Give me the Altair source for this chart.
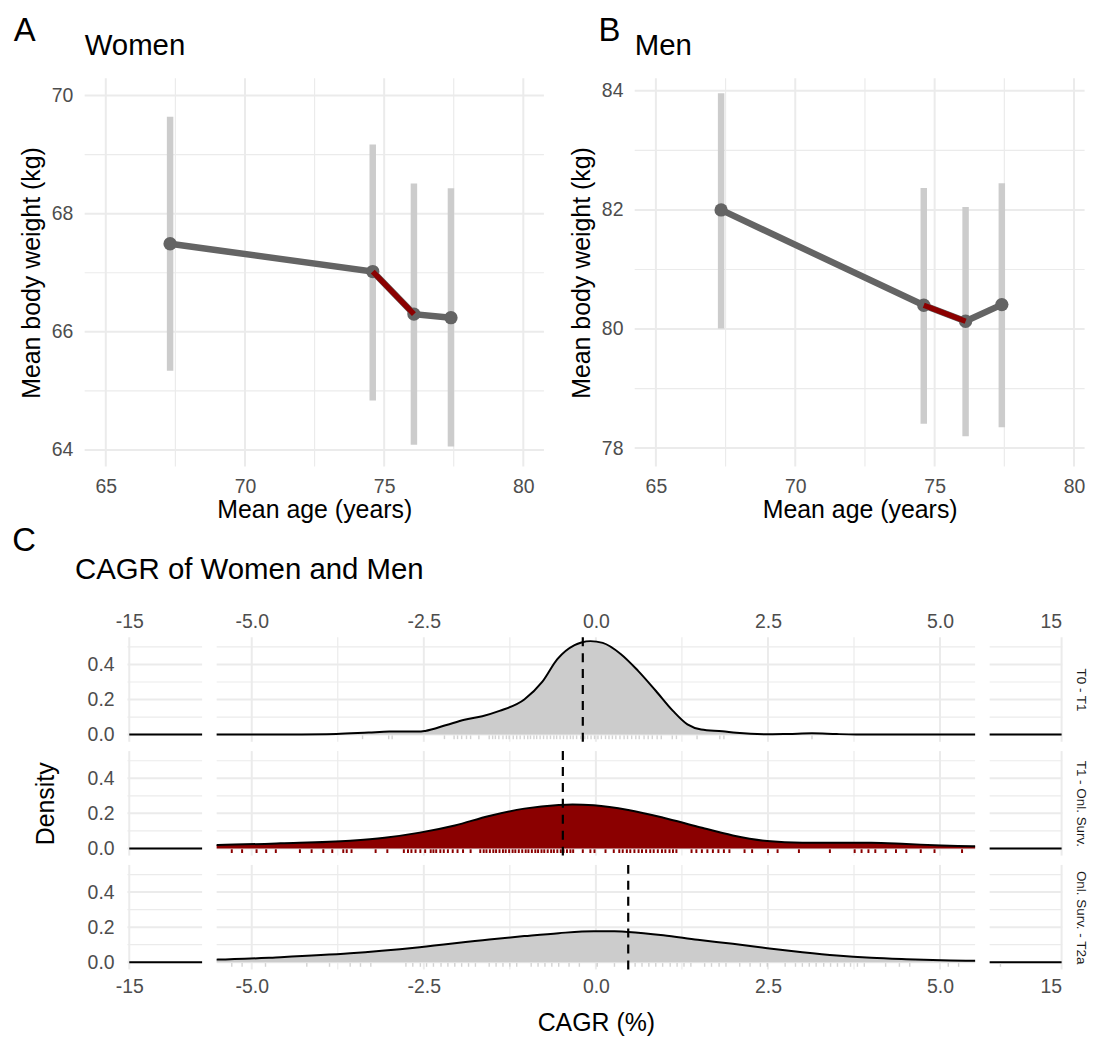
import altair as alt
import pandas as pd

FONT = "Liberation Sans"
GRID = "#EBEBEB"
DARK = "#646464"
RED = "#8B0000"
BAR = "#CCCCCC"
U = alt.Undefined

# ---------------- Panels A / B : mean body weight by mean age ----------------
waves = ["T0", "T1", "Onl. Surv.", "T2a"]

ages_women = [67.31, 74.59, 76.07, 77.40]
weight_women = [67.49, 67.02, 66.30, 66.24]
lo_women = [65.34, 64.84, 64.09, 64.06]
hi_women = [69.64, 69.17, 68.51, 68.43]

ages_men = [67.34, 74.61, 76.11, 77.41]
weight_men = [82.00, 80.40, 80.13, 80.41]
lo_men = [80.01, 78.41, 78.20, 78.35]
hi_men = [83.96, 82.37, 82.05, 82.45]

age_ticks = [65, 70, 75, 80]
age_minor = [67.5, 72.5, 77.5]
women_ticks = [64, 66, 68, 70]
women_minor = [65, 67, 69]
men_ticks = [78, 80, 82, 84]
men_minor = [79, 81, 83]
red_waves = ["T1", "Onl. Surv."]

# ---------------- Panel C : CAGR densities ----------------
row_labels = ["T0 - T1", "T1 - Onl. Surv.", "Onl. Surv. - T2a"]
row_fill = ["#CCCCCC", RED, "#CCCCCC"]
row_rug_color = ["#C8C8C8", RED, "#C8C8C8"]

dens1_x = [-15, -11, -5.5, -4.5, -3.77, -3.3, -3.0, -2.58, -2.48, -2.17, -1.91, -1.65, -1.40,
           -1.04, -0.78, -0.56, -0.31, -0.21, -0.08, 0.10, 0.36, 0.61, 0.87, 1.12, 1.33, 1.53,
           1.84, 2.04, 2.45, 2.8, 3.14, 3.5, 3.78, 4.5, 5.5, 11, 15]
dens1_y = [0, 0, 0, 0.001, 0.004, 0.012, 0.017, 0.017, 0.021, 0.055, 0.085, 0.105, 0.135,
           0.2, 0.3, 0.43, 0.51, 0.525, 0.533, 0.523, 0.46, 0.365, 0.25, 0.135, 0.058, 0.029,
           0.019, 0.01, 0.002, 0.004, 0.007, 0.003, 0.001, 0, 0, 0, 0]

dens2_x = [-15, -11, -5.49, -4.58, -3.57, -3.07, -2.56, -2.05, -1.55, -1.04, -0.54, -0.34, -0.03,
           0.47, 0.98, 1.48, 1.99, 2.49, 3.0, 3.5, 4.0, 4.51, 5.02, 5.47, 11, 15]
dens2_y = [0, 0, 0.019, 0.029, 0.044, 0.061, 0.09, 0.131, 0.185, 0.227, 0.248, 0.251, 0.246,
           0.219, 0.175, 0.124, 0.074, 0.042, 0.032, 0.032, 0.032, 0.025, 0.017, 0.013, 0, 0]

dens3_x = [-15, -11, -5.49, -4.58, -3.57, -2.56, -1.55, -1.04, -0.54, -0.03, 0.27, 0.47, 0.98,
           1.48, 1.99, 2.49, 3.0, 3.5, 4.0, 4.51, 5.02, 5.47, 11, 15]
dens3_y = [0, 0, 0.015, 0.029, 0.051, 0.086, 0.13, 0.149, 0.166, 0.177, 0.177, 0.173, 0.154,
           0.128, 0.105, 0.08, 0.057, 0.038, 0.025, 0.017, 0.011, 0.008, 0, 0]

means = [-0.19, -0.48, 0.47]

rug1 = [-3.39, -3.01, -2.96, -2.20, -2.06, -2.01, -1.95, -1.88, -1.82, -1.70, -1.55, -1.50, -1.46,
        -1.41, -1.35, -1.30, -1.26, -1.20, -1.15, -1.10, -1.04, -0.99, -0.95, -0.90, -0.86, -0.81,
        -0.76, -0.71, -0.66, -0.61, -0.57, -0.52, -0.47, -0.42, -0.37, -0.33, -0.28, -0.22, -0.16,
        -0.12, -0.07, -0.02, 0.03, 0.08, 0.14, 0.19, 0.24, 0.29, 0.35, 0.41, 0.46, 0.52, 0.58,
        0.63, 0.70, 0.76, 0.82, 0.89, 0.95, 1.11, 1.17, 1.47, 1.80, 1.86, 3.14]

rug2 = [-5.29, -5.14, -4.93, -4.79, -4.65, -4.30, -4.13, -3.96, -3.83, -3.67, -3.62, -3.55, -3.20,
        -3.03, -2.79, -2.73, -2.68, -2.62, -2.55, -2.48, -2.40, -2.36, -2.32, -2.26, -2.21, -2.15,
        -2.08, -2.01, -1.93, -1.82, -1.68, -1.63, -1.59, -1.54, -1.49, -1.45, -1.40, -1.35, -1.31,
        -1.26, -1.21, -1.17, -1.12, -1.07, -1.02, -0.98, -0.93, -0.88, -0.84, -0.79, -0.75, -0.70,
        -0.65, -0.61, -0.56, -0.51, -0.47, -0.42, -0.37, -0.33, -0.19, -0.08, -0.02, 0.14, 0.26,
        0.34, 0.39, 0.45, 0.50, 0.56, 0.62, 0.67, 0.73, 0.79, 0.84, 0.90, 0.96, 1.01, 1.07, 1.12,
        1.17, 1.39, 1.46, 1.54, 1.62, 1.70, 1.78, 1.86, 1.94, 2.16, 2.27, 2.50, 2.64, 2.95, 3.40,
        3.76, 3.86, 3.96, 4.06, 4.21, 4.36, 4.51, 4.72, 4.92, 5.32]

rug3 = [-5.29, -5.14, -4.80, -4.20, -3.87, -3.57, -3.42, -3.27, -2.76, -2.66, -2.55, -2.46, -2.36,
        -2.25, -2.15, -2.05, -1.95, -1.85, -1.75, -1.55, -1.45, -1.35, -1.25, -1.15, -0.94, -0.84,
        -0.74, -0.64, -0.54, -0.39, -0.24, 0.02, 0.27, 0.47, 0.57, 0.67, 0.77, 0.87, 0.97, 1.08,
        1.18, 1.28, 1.38, 1.58, 1.68, 1.79, 1.89, 2.09, 2.24, 2.39, 2.49, 2.75, 2.90, 3.00, 3.10,
        3.20, 3.31, 3.41, 3.51, 3.61, 3.70, 3.80, 3.90, 4.21, 4.41, 4.56, 5.12, 5.27, 11.6]

seg_domains = {"L": [-15.1, -11.0], "M": [-5.51, 5.51], "R": [11.0, 15.04]}
seg_widths = {"L": 75, "M": 762, "R": 73}
seg_major = {"L": [-15], "M": [-5, -2.5, 0, 2.5, 5], "R": [15]}
seg_minor = {"L": [], "M": [-3.75, -1.25, 1.25, 3.75], "R": []}
dens_major = [0, 0.2, 0.4]
dens_minor = [0.1, 0.3, 0.5]
dens_domain = [-0.041, 0.555]

MINUS_FIX = "replace(format(datum.value, '{f}'), '\u2212', '-')"


def vals(v):
    return pd.DataFrame({"v": v})


def other(ax):
    # layers that do not own the axis: hide it everywhere if the panel has none,
    # otherwise leave it unset so the owning layer's explicit axis is kept
    return None if ax is None else U


def weight_panel(ages, w, lo, hi, title, xdom, ydom, yt, ym, width):
    df = pd.DataFrame({"age": ages, "w": w, "lo": lo, "hi": hi, "wave": waves})
    XS = alt.Scale(domain=xdom, nice=False, zero=False)
    YS = alt.Scale(domain=ydom, nice=False, zero=False)
    xa = alt.Axis(values=age_ticks, title="Mean age (years)", labelPadding=11.2, titlePadding=1.6,
                  ticks=False, domain=False, grid=False, format="d")
    ya = alt.Axis(values=yt, title="Mean body weight (kg)", labelPadding=11.8, titlePadding=7,
                  ticks=False, domain=False, grid=False, format="d")
    vmaj = alt.Chart(vals(age_ticks)).mark_rule(color=GRID, strokeWidth=2).encode(
        x=alt.X("v:Q", scale=XS, axis=xa))
    vmin = alt.Chart(vals(age_minor)).mark_rule(color=GRID, strokeWidth=1.2).encode(
        x=alt.X("v:Q", scale=XS))
    hmaj = alt.Chart(vals(yt)).mark_rule(color=GRID, strokeWidth=2).encode(
        y=alt.Y("v:Q", scale=YS, axis=ya))
    hmin = alt.Chart(vals(ym)).mark_rule(color=GRID, strokeWidth=1.2).encode(
        y=alt.Y("v:Q", scale=YS))
    X = alt.X("age:Q", scale=XS)
    bars = alt.Chart(df).mark_rule(color=BAR, strokeWidth=6.5).encode(
        x=X, y=alt.Y("lo:Q", scale=YS), y2="hi:Q")
    line = alt.Chart(df).mark_line(color=DARK, strokeWidth=6.5).encode(
        x=X, y=alt.Y("w:Q", scale=YS))
    pts = alt.Chart(df).mark_circle(size=180, color=DARK, opacity=1).encode(
        x=X, y=alt.Y("w:Q", scale=YS))
    red = alt.Chart(df[df["wave"].isin(red_waves)]).mark_line(color=RED, strokeWidth=5.5).encode(
        x=X, y=alt.Y("w:Q", scale=YS))
    return alt.layer(vmaj, vmin, hmaj, hmin, bars, line, pts, red).properties(
        width=width, height=390,
        title=alt.TitleParams(title, anchor="start", frame="group", fontSize=29.5, offset=15.5))


def c_cell(r, seg, dx, dy, rug):
    XS = alt.Scale(domain=seg_domains[seg], nice=False, zero=False)
    YS = alt.Scale(domain=dens_domain, nice=False, zero=False)
    fmt = ".1f" if seg == "M" else "d"
    if r == 0:
        xa = alt.Axis(orient="top", values=seg_major[seg], labelExpr=MINUS_FIX.format(f=fmt),
                      title=None, labelPadding=6.2, ticks=False, domain=False, grid=False)
    elif r == 2:
        xa = alt.Axis(orient="bottom", values=seg_major[seg], labelExpr=MINUS_FIX.format(f=fmt),
                      title="CAGR (%)" if seg == "M" else None, titlePadding=14,
                      labelPadding=8.4, ticks=False, domain=False, grid=False)
    else:
        xa = None
    if seg == "L":
        ya = alt.Axis(values=dens_major, labelExpr=MINUS_FIX.format(f=".1f"),
                      title="Density", titleOpacity=1 if r == 1 else 0, titlePadding=29.2,
                      labelPadding=13.4, ticks=False, domain=False, grid=False)
    elif seg == "R":
        ya = alt.Axis(orient="right", labels=False, ticks=False, domain=False, grid=False,
                      title=row_labels[r], titleAngle=90, titleFontSize=13.5, titleColor="#1A1A1A",
                      titlePadding=11.3)
    else:
        ya = None
    xo, yo = other(xa), other(ya)
    lo, hi = seg_domains[seg]
    layers = []
    layers.append(alt.Chart(vals(dens_major)).mark_rule(color=GRID, strokeWidth=2).encode(
        y=alt.Y("v:Q", scale=YS, axis=ya)))
    layers.append(alt.Chart(vals(dens_minor)).mark_rule(color=GRID, strokeWidth=1.2).encode(
        y=alt.Y("v:Q", scale=YS, axis=yo)))
    layers.append(alt.Chart(vals(seg_major[seg])).mark_rule(color=GRID, strokeWidth=2).encode(
        x=alt.X("v:Q", scale=XS, axis=xa)))
    if seg_minor[seg]:
        layers.append(alt.Chart(vals(seg_minor[seg])).mark_rule(color=GRID, strokeWidth=1.2).encode(
            x=alt.X("v:Q", scale=XS, axis=xo)))
    ddf = pd.DataFrame({"x": dx, "d": dy})
    X = alt.X("x:Q", scale=XS, axis=xo)
    layers.append(alt.Chart(ddf).mark_area(interpolate="monotone", color=row_fill[r], clip=True).encode(
        x=X, y=alt.Y("d:Q", scale=YS, axis=yo), y2=alt.datum(0)))
    layers.append(alt.Chart(ddf).mark_line(interpolate="monotone", color="black", strokeWidth=2,
                                           clip=True).encode(
        x=X, y=alt.Y("d:Q", scale=YS, axis=yo)))
    rdf = pd.DataFrame({"x": [v for v in rug if lo <= v <= hi]})
    if len(rdf):
        layers.append(alt.Chart(rdf).mark_rule(color=row_rug_color[r],
                                               strokeWidth=2 if r == 1 else 1.4,
                                               opacity=1 if r == 1 else 0.8).encode(
            x=X, y=alt.YDatum(-0.005, scale=YS, axis=yo), y2=alt.datum(-0.026)))
    if seg == "M":
        layers.append(alt.Chart(pd.DataFrame({"x": [means[r]]})).mark_rule(
            color="black", strokeWidth=2.2, strokeDash=[9, 7]).encode(x=X))
    return alt.layer(*layers).properties(width=seg_widths[seg], height=105)


def spacer():
    return alt.Chart(vals([0])).mark_point(opacity=0, size=0).encode(
        x=alt.X("v:Q", axis=None, scale=alt.Scale(domain=[0, 1])),
        y=alt.Y("v:Q", axis=None, scale=alt.Scale(domain=[0, 1]))).properties(width=1, height=1)


women = weight_panel(ages_women, weight_women, lo_women, hi_women, "Women",
                     [64.24, 80.74], [63.72, 70.29], women_ticks, women_minor, 461.4)
men = weight_panel(ages_men, weight_men, lo_men, hi_men, "Men",
                   [64.24, 80.38], [77.69, 84.21], men_ticks, men_minor, 452)

tag = dict(anchor="start", frame="group", fontSize=33)
a_wrap = alt.hconcat(women, title=alt.TitleParams("A", dx=-71.3, offset=-16.5, **tag))
b_wrap = alt.hconcat(men, title=alt.TitleParams("B", dx=-36.3, offset=-16.5, **tag))
ab_row = alt.hconcat(a_wrap, b_wrap, spacing=23.6)
top_row = alt.hconcat(spacer(), ab_row, spacing=1)

dens_x = [dens1_x, dens2_x, dens3_x]
dens_y = [dens1_y, dens2_y, dens3_y]
rugs = [rug1, rug2, rug3]
rows = []
for r in range(3):
    rows.append(alt.hconcat(*[c_cell(r, s, dens_x[r], dens_y[r], rugs[r]) for s in ["L", "M", "R"]],
                            spacing=12.6))
c_inner = alt.vconcat(*rows, spacing=4.35,
                      title=alt.TitleParams("CAGR of Women and Men", anchor="start", frame="group",
                                            fontSize=29.5, dx=-52.7, offset=25.8))
c_wrap = alt.vconcat(c_inner, title=alt.TitleParams("C", dx=-115.7, offset=-2.8, **tag))
c_row = alt.hconcat(spacer(), c_wrap, spacing=0)

chart = alt.vconcat(top_row, c_row, spacing=1.5).properties(
    padding={"left": 3, "top": 4.3, "right": 0, "bottom": 0}
).configure_view(stroke=None).configure_axis(
    labelFont=FONT, titleFont=FONT, labelColor="#4D4D4D", labelFontSize=19.5,
    titleFontSize=25, titleColor="black", titleFontWeight="normal"
).configure_title(font=FONT, fontWeight="normal", color="black")

chart.save("out.html", embed_options={"renderer": "svg", "actions": False})
